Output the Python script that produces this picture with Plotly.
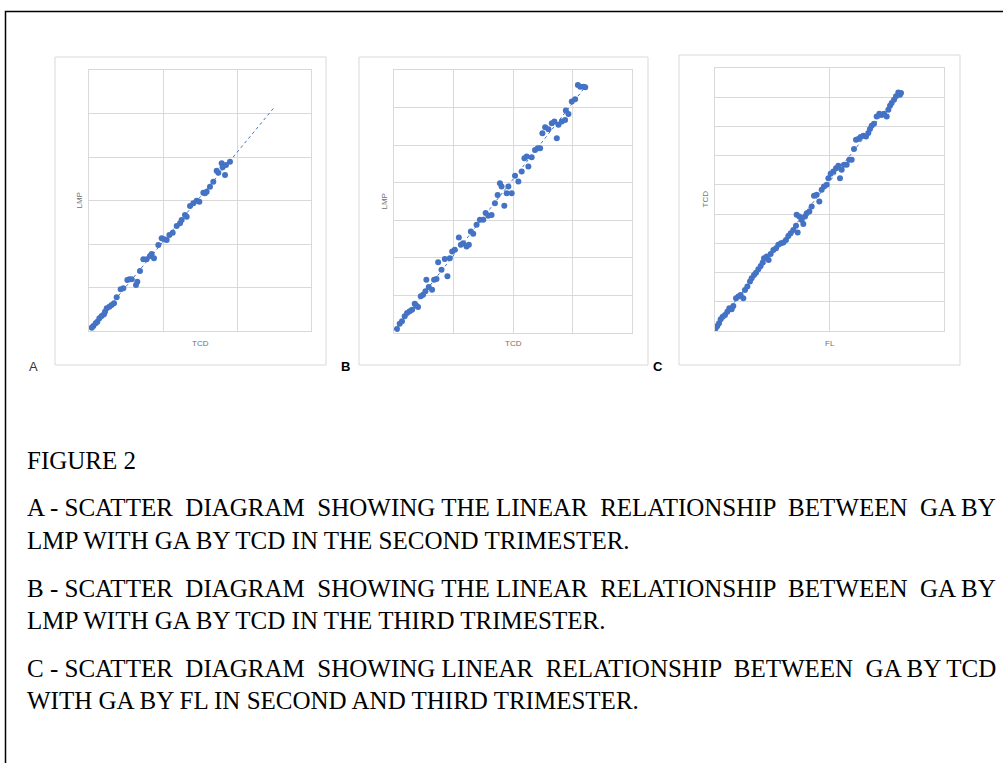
import numpy as np
import plotly.graph_objects as go

# ---------------- DATA ----------------
# Panel A: GA by TCD (x) vs GA by LMP (y), second trimester (weeks)
a_tcd = [12.36, 12.59, 12.90, 13.13, 13.40, 13.71, 14.03, 14.16, 14.39, 14.75, 15.06, 15.38, 15.74,
         16.28, 16.64, 17.18, 17.45, 17.77, 18.35, 18.53, 18.89, 19.34, 19.79, 20.24, 20.47, 20.78,
         21.37, 21.82, 22.14, 22.50, 22.86, 23.31, 23.85, 24.30, 24.52, 24.97, 25.20, 25.65, 26.10,
         26.55, 26.91, 27.45, 27.68, 27.90, 28.35, 28.80, 29.25, 29.48, 29.93, 30.06, 30.38, 30.51, 31.05]
a_lmp = [12.38, 12.57, 12.88, 13.07, 13.46, 13.72, 13.92, 14.22, 14.61, 14.80, 14.99, 15.18, 15.87,
         16.79, 16.90, 17.86, 17.94, 17.94, 17.29, 17.67, 18.90, 20.24, 20.24, 20.62, 20.85, 20.35,
         21.89, 22.65, 22.54, 22.46, 23.03, 23.30, 24.07, 24.38, 24.76, 25.33, 25.14, 26.37, 26.67,
         26.98, 26.87, 27.90, 27.82, 28.02, 28.59, 29.16, 30.43, 30.20, 31.27, 30.81, 29.93, 31.08, 31.46]
a_trend_end = 37.0

# Panel B: GA by TCD (x) vs GA by LMP (y), third trimester (weeks)
b_tcd = [20.25, 20.48, 20.67, 20.90, 21.10, 21.32, 21.52, 21.74, 21.88, 22.02, 22.25, 22.44, 22.64,
         22.72, 22.92, 23.20, 23.37, 23.57, 23.71, 23.99, 24.27, 24.49, 24.69, 24.89, 25.11, 25.45,
         25.62, 25.81, 26.10, 26.29, 26.46, 26.66, 26.94, 27.22, 27.50, 27.70, 27.92, 28.20, 28.48,
         28.71, 28.90, 29.04, 29.27, 29.47, 29.61, 29.89, 30.17, 30.45, 30.73, 30.96, 31.15, 31.29,
         31.57, 31.85, 32.08, 32.28, 32.47, 32.70, 32.98, 33.26, 33.48, 33.68, 33.82, 34.10, 34.38,
         34.44, 34.66, 34.94, 35.22, 35.45, 35.65, 35.93, 36.07]
b_lmp = [20.27, 20.62, 20.78, 21.11, 21.33, 21.44, 21.55, 21.95, 21.82, 21.73, 22.44, 22.55, 22.77,
         23.54, 23.06, 22.88, 23.54, 23.59, 24.70, 24.21, 24.92, 23.77, 24.98, 25.43, 25.54, 26.36,
         25.87, 25.98, 25.76, 25.87, 26.76, 26.60, 27.20, 27.53, 27.53, 27.98, 27.80, 27.86, 28.64,
         29.19, 29.97, 29.75, 28.46, 29.30, 29.75, 29.30, 30.46, 30.08, 30.74, 31.63, 31.74, 31.08,
         31.70, 32.18, 32.30, 32.30, 33.29, 33.69, 33.56, 33.96, 34.07, 32.96, 33.85, 34.07, 34.18,
         34.80, 34.58, 35.40, 35.55, 36.50, 36.39, 36.39, 36.35]

# Panel C: GA by FL (x) vs GA by TCD (y), second and third trimester (weeks)
c_fl = [12.12, 12.41, 12.70, 12.99, 13.34, 13.75, 14.15, 14.50, 14.91, 15.20, 15.67, 16.08, 16.48,
        16.95, 17.24, 17.65, 18.11, 18.40, 18.81, 19.16, 19.57, 19.98, 20.33, 20.56, 21.02, 21.37,
        21.72, 22.19, 22.66, 23.06, 23.53, 23.94, 24.40, 24.81, 25.22, 25.68, 26.15, 26.44, 26.26,
        26.73, 27.14, 27.43, 27.72, 28.01, 28.48, 28.89, 29.29, 29.76, 30.22, 30.63, 31.04, 31.51,
        31.80, 32.20, 32.67, 33.14, 33.54, 33.83, 34.13, 34.53, 35.00, 35.46, 35.87, 36.28, 36.63,
        37.04, 37.44, 37.91, 38.38, 38.78, 39.07, 39.37, 39.77, 40.24, 40.70, 41.11, 41.52, 41.99,
        42.28, 42.57, 42.86, 43.27, 43.62, 44.02, 44.31, 44.49]
c_tcd = [12.37, 12.69, 13.05, 13.60, 13.96, 14.19, 14.65, 15.11, 14.97, 15.43, 16.48, 16.71, 16.93,
         16.48, 17.62, 18.08, 18.76, 19.22, 19.67, 19.99, 20.45, 20.91, 21.36, 21.96, 22.19, 21.73,
         22.55, 23.10, 23.33, 23.79, 24.01, 24.11, 24.47, 25.02, 25.39, 25.84, 26.39, 25.48, 27.90,
         27.67, 27.21, 26.66, 27.67, 28.13, 28.35, 29.04, 30.50, 30.64, 29.72, 31.32, 31.78, 32.01,
         32.92, 33.52, 33.84, 34.29, 34.61, 32.92, 34.07, 34.75, 34.75, 35.44, 35.44, 36.90, 38.18,
         38.27, 38.54, 38.72, 38.63, 39.09, 39.64, 40.09, 40.37, 41.37, 41.74, 41.56, 41.74, 41.37,
         42.29, 42.84, 43.20, 43.66, 44.12, 44.66, 44.34, 44.57]

axis_titles = {"A": ("TCD", "LMP"), "B": ("TCD", "LMP"), "C": ("FL", "TCD")}

caption_lines = [
    "FIGURE 2",
    "A - SCATTER  DIAGRAM  SHOWING THE LINEAR  RELATIONSHIP  BETWEEN  GA BY",
    "LMP WITH GA BY TCD IN THE SECOND TRIMESTER.",
    "B - SCATTER  DIAGRAM  SHOWING THE LINEAR  RELATIONSHIP  BETWEEN  GA BY",
    "LMP WITH GA BY TCD IN THE THIRD TRIMESTER.",
    "C - SCATTER  DIAGRAM  SHOWING LINEAR  RELATIONSHIP  BETWEEN  GA BY TCD",
    "WITH GA BY FL IN SECOND AND THIRD TRIMESTER.",
]

# ---------------- LAYOUT HELPERS ----------------
W, H = 1003, 763
def px(x):
    return x / W
def py(y):
    return 1 - y / H

BLUE = "#4472C4"
GRID = "#d9d9d9"

fig = go.Figure()

panels = [
    ("A", a_tcd, a_lmp, "", (89, 311, 70, 331), (55, 326, 57, 365), [12, 42], 10, [12, 42], 5, a_trend_end),
    ("B", b_tcd, b_lmp, "2", (394, 632, 70, 333), (359, 648, 57, 365), [20, 40], 5, [20, 37.5], 2.5, None),
    ("C", c_fl, c_tcd, "3", (715, 944, 68, 331), (679, 960, 55, 365), [12, 52], 20, [12, 48], 4, None),
]

shapes = []
annotations = []

for name, xs, ys, sfx, box, card, xr, xd, yr, yd, tend in panels:
    xa = "x" + sfx
    ya = "y" + sfx
    xs_arr = np.array(xs)
    ys_arr = np.array(ys)
    slope, icpt = np.polyfit(xs_arr, ys_arr, 1)
    x0 = xs_arr.min()
    x1 = tend if tend is not None else xs_arr.max()
    fig.add_trace(go.Scatter(x=[x0, x1], y=[slope * x0 + icpt, slope * x1 + icpt], mode="lines",
                             line=dict(color=BLUE, width=1, dash="dot"), xaxis=xa, yaxis=ya,
                             showlegend=False, hoverinfo="skip"))
    fig.add_trace(go.Scatter(x=xs, y=ys, mode="markers",
                             marker=dict(color=BLUE, size=6, line=dict(width=0)),
                             xaxis=xa, yaxis=ya, showlegend=False))
    l, r, t, b = box
    common = dict(showticklabels=False, ticks="", showgrid=True, gridcolor=GRID, gridwidth=1,
                  zeroline=False, showline=True, linecolor=GRID, linewidth=1, mirror=True, fixedrange=True)
    fig.layout["xaxis" + sfx] = dict(domain=[px(l), px(r)], range=xr, dtick=xd, tick0=xr[0],
                                     anchor=ya, **common)
    fig.layout["yaxis" + sfx] = dict(domain=[py(b), py(t)], range=yr, dtick=yd, tick0=yr[0],
                                     anchor=xa, **common)
    cl, cr, ct, cb = card
    shapes.append(dict(type="rect", xref="paper", yref="paper", x0=px(cl), x1=px(cr), y0=py(cb), y1=py(ct),
                       line=dict(color=GRID, width=1), fillcolor="white", layer="below"))
    xt, yt = axis_titles[name]
    annotations.append(dict(text=xt, x=px((l + r) / 2), y=py(343), xref="paper", yref="paper",
                            showarrow=False, xanchor="center", yanchor="middle",
                            font=dict(family="Liberation Sans", size=8, color="#707070")))
    annotations.append(dict(text=yt, x=px(l - 10), y=py((t + b) / 2), xref="paper", yref="paper",
                            showarrow=False, xanchor="center", yanchor="middle", textangle=-90,
                            font=dict(family="Liberation Sans", size=8, color="#707070")))

# panel letters
annotations.append(dict(text="A", x=px(33), y=py(366), xref="paper", yref="paper", showarrow=False,
                        xanchor="center", yanchor="middle",
                        font=dict(family="Liberation Sans", size=13, color="#333333")))
annotations.append(dict(text="<b>B</b>", x=px(345), y=py(366), xref="paper", yref="paper", showarrow=False,
                        xanchor="center", yanchor="middle",
                        font=dict(family="Liberation Sans", size=13, color="black")))
annotations.append(dict(text="<b>C</b>", x=px(658), y=py(366), xref="paper", yref="paper", showarrow=False,
                        xanchor="center", yanchor="middle",
                        font=dict(family="Liberation Sans", size=13, color="black")))

# caption
line_y = [460, 507, 540, 588, 620, 668, 700]
for txt, yy in zip(caption_lines, line_y):
    annotations.append(dict(text=txt, x=px(25), y=py(yy), xref="paper", yref="paper", showarrow=False,
                            xanchor="left", yanchor="middle",
                            font=dict(family="Liberation Serif", size=25, color="black")))

# outer black frame (extends past right/bottom edges)
shapes.append(dict(type="rect", xref="paper", yref="paper", x0=px(5.5), x1=1.02, y0=-0.02, y1=py(11.5),
                   line=dict(color="black", width=1.5), fillcolor="rgba(0,0,0,0)", layer="below"))

fig.update_layout(width=W, height=H, margin=dict(l=0, r=0, t=0, b=0),
                  paper_bgcolor="white", plot_bgcolor="rgba(0,0,0,0)",
                  shapes=shapes, annotations=annotations, showlegend=False)

# remove the page's default body margin so the figure sits at the window's top-left corner
fig.write_html("out.html", config={"displayModeBar": False},
               post_script="document.body.style.margin='0';document.body.style.overflow='hidden';")
